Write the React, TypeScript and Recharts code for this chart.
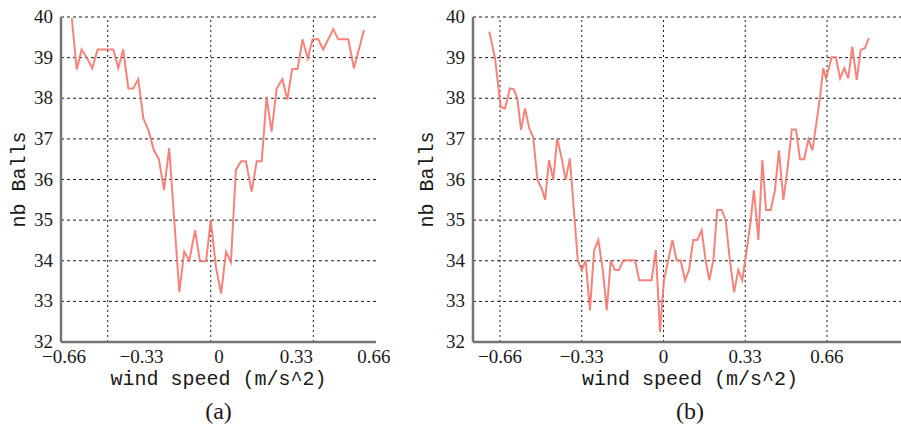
import { CartesianGrid, Label, Line, LineChart, ReferenceLine, XAxis, YAxis } from "recharts";

// panel (a)
const windA = [
  -0.627, -0.606, -0.585, -0.561, -0.54, -0.517, -0.45, -0.429, -0.408, -0.386, -0.365, -0.344, -0.322,
  -0.301, -0.277, -0.256, -0.234, -0.212, -0.169, -0.148, -0.126, -0.102, -0.081, -0.055, -0.035, -0.013,
  0.009, 0.03, 0.051, 0.072, 0.094, 0.115, 0.139, 0.161, 0.182, 0.203, 0.224, 0.246, 0.27, 0.291, 0.312,
  0.335, 0.356, 0.378, 0.399, 0.423, 0.444, 0.487, 0.508, 0.551, 0.575, 0.618,
];
const ballsA = [
  39.97, 38.71, 39.2, 38.98, 38.74, 39.2, 39.2, 38.74, 39.2, 38.24, 38.24, 38.47, 37.5,
  37.22, 36.72, 36.5, 35.74, 36.77, 33.23, 34.22, 34.01, 34.75, 33.99, 33.99, 35.0, 33.85,
  33.19, 34.22, 33.97, 36.23, 36.45, 36.45, 35.7, 36.45, 36.45, 38.04, 37.18, 38.24, 38.47, 37.97, 38.72,
  38.72, 39.45, 38.98, 39.45, 39.45, 39.2, 39.7, 39.45, 39.45, 38.74, 39.68,
];
const gridXA = [-0.474, -0.035, 0.402];

// panel (b)
const windB = [
  -0.703, -0.68, -0.657, -0.64, -0.62, -0.604, -0.59, -0.575, -0.559, -0.542, -0.526, -0.509, -0.492,
  -0.478, -0.462, -0.445, -0.429, -0.411, -0.395, -0.378, -0.346, -0.33, -0.314, -0.297, -0.28, -0.263,
  -0.245, -0.229, -0.213, -0.196, -0.18, -0.162, -0.128, -0.115, -0.098, -0.048, -0.031, -0.014, 0.002,
  0.019, 0.036, 0.053, 0.069, 0.087, 0.103, 0.12, 0.136, 0.154, 0.17, 0.185, 0.201, 0.217, 0.235, 0.251,
  0.268, 0.285, 0.302, 0.318, 0.336, 0.352, 0.365, 0.383, 0.399, 0.414, 0.433, 0.45, 0.466, 0.484, 0.5,
  0.518, 0.535, 0.551, 0.568, 0.585, 0.601, 0.619, 0.632, 0.645, 0.656, 0.679, 0.696, 0.713, 0.73, 0.746,
  0.762, 0.78, 0.796, 0.813, 0.829,
];
const ballsB = [
  39.64, 38.98, 37.78, 37.75, 38.24, 38.22, 38.0, 37.22, 37.75, 37.26, 37.04, 35.99, 35.78,
  35.5, 36.48, 35.99, 37.01, 36.52, 35.99, 36.52, 34.01, 33.77, 34.01, 32.78, 34.26, 34.51,
  33.77, 32.78, 34.01, 33.77, 33.77, 34.01, 34.01, 34.01, 33.52, 33.52, 34.26, 32.25, 33.52,
  34.01, 34.51, 34.01, 34.01, 33.52, 33.77, 34.51, 34.51, 34.75, 34.01, 33.52, 34.01, 35.25, 35.25, 35.0,
  34.01, 33.23, 33.77, 33.52, 34.26, 35.0, 35.74, 34.51, 36.48, 35.25, 35.25, 35.74, 36.72, 35.5, 36.23,
  37.23, 37.23, 36.5, 36.5, 36.99, 36.72, 37.46, 38.04, 38.74, 38.49, 39.01, 39.01, 38.49, 38.74, 38.49,
  39.27, 38.45, 39.19, 39.23, 39.48,
];
const gridXB = [-0.66, -0.33, 0, 0.33, 0.66];

const xTicks = [-0.66, -0.33, 0, 0.33, 0.66];
const yTicks = [32, 33, 34, 35, 36, 37, 38, 39, 40];

const FRAME = "#747474";
const INK = "#1a1a1a";
const serif = "Liberation Serif";
const mono = "Liberation Mono";

const fmt = (v: number) => (v < 0 ? "\u2212" + Math.abs(v) : String(v));

// serif tick labels, drawn by hand so the font sticks
const XTick = ({ x, y, payload }: any) => (
  <text x={x} y={y + 21} textAnchor="middle" fontFamily={serif} fontSize={19} fill={INK}>
    {fmt(payload.value)}
  </text>
);
const YTick = ({ x, y, payload }: any) => (
  <text x={x - 8} y={y + 6} textAnchor="end" fontFamily={serif} fontSize={19} fill={INK}>
    {payload.value}
  </text>
);

interface PanelProps {
  wind: number[];
  balls: number[];
  gridX: number[];
  domain: [number, number];
  caption: string;
  width: number;
  left: number;
  marginLeft: number;
  marginRight: number;
  yTitleOffset: number;
}

function Panel({ wind, balls, gridX, domain, caption, width, left, marginLeft, marginRight, yTitleOffset }: PanelProps) {
  const data = wind.map((x, i) => ({ x, y: balls[i] }));
  return (
    <div style={{ position: "absolute", left, top: 0 }}>
      <LineChart width={width} height={426} data={data} margin={{ top: 17, right: marginRight, bottom: 0, left: marginLeft }}>
        <CartesianGrid vertical={false} stroke={INK} strokeDasharray="3 3" />
        {gridX.map((g) => (
          <ReferenceLine key={g} x={g} stroke={INK} strokeDasharray="2 3" ifOverflow="hidden" />
        ))}
        <XAxis
          dataKey="x"
          type="number"
          domain={domain}
          allowDataOverflow
          ticks={xTicks}
          interval={0}
          height={84}
          tickLine={false}
          tickSize={0}
          tickMargin={0}
          axisLine={{ stroke: FRAME, strokeWidth: 2.5 }}
          tick={<XTick />}
        >
          <Label
            content={({ viewBox }: any) => (
              <g>
                <text x={viewBox.x + viewBox.width / 2} y={viewBox.y + 43} textAnchor="middle" fontFamily={mono} fontSize={20} fill={INK}>
                  wind speed (m/s^2)
                </text>
                <text x={viewBox.x + viewBox.width / 2} y={viewBox.y + 77} textAnchor="middle" fontFamily={serif} fontSize={24} fill={INK}>
                  {caption}
                </text>
              </g>
            )}
          />
        </XAxis>
        <XAxis xAxisId="top" orientation="top" type="number" domain={domain} allowDataOverflow height={0} tick={false} tickLine={false} axisLine={{ stroke: FRAME, strokeWidth: 2.5 }} />
        <YAxis
          type="number"
          domain={[32, 40]}
          ticks={yTicks}
          interval={0}
          width={50}
          tickLine={false}
          tickMargin={0}
          tickSize={0}
          axisLine={{ stroke: FRAME, strokeWidth: 2.5 }}
          tick={<YTick />}
        >
          <Label
            content={({ viewBox }: any) => {
              const x = viewBox.x + yTitleOffset;
              const y = viewBox.y + viewBox.height / 2;
              return (
                <text x={x} y={y} transform={`rotate(-90, ${x}, ${y})`} textAnchor="middle" fontFamily={mono} fontSize={20} fill={INK}>
                  nb Balls
                </text>
              );
            }}
          />
        </YAxis>
        <YAxis yAxisId="right" orientation="right" type="number" domain={[32, 40]} width={0} tick={false} tickLine={false} axisLine={{ stroke: FRAME, strokeWidth: 2.5 }} />
        <Line type="linear" dataKey="y" stroke="#f4756d" strokeOpacity={0.9} strokeWidth={2} dot={false} isAnimationActive={false} />
      </LineChart>
    </div>
  );
}

export default function App() {
  return (
    <div style={{ position: "absolute", left: 0, top: 0, width: 901, height: 426, overflow: "hidden", background: "#fff" }}>
      <Panel wind={windA} balls={ballsA} gridX={gridXA} domain={[-0.673, 0.669]} caption="(a)" width={390} left={0} marginLeft={11} marginRight={14} yTitleOffset={14} />
      <Panel wind={windB} balls={ballsB} gridX={gridXB} domain={[-0.769, 0.983]} caption="(b)" width={520} left={400} marginLeft={23} marginRight={13} yTitleOffset={10} />
    </div>
  );
}
